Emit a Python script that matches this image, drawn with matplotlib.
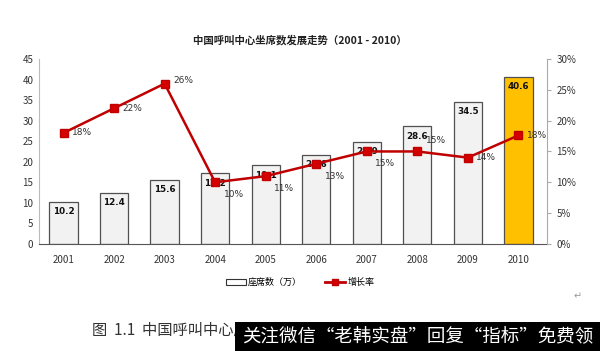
import matplotlib.pyplot as plt
import matplotlib.patches as mpatches
import numpy as np

plt.rcParams['font.family'] = ['Noto Sans CJK SC', 'DejaVu Sans']

years = ["2001", "2002", "2003", "2004", "2005", "2006", "2007", "2008", "2009", "2010"]
seats = [10.2, 12.4, 15.6, 17.2, 19.1, 21.6, 24.9, 28.6, 34.5, 40.6]
growth = [18, 22, 26, 10, 11, 13, 15, 15, 14, 17.6]
growth_labels = ["18%", "22%", "26%", "10%", "11%", "13%", "15%", "15%", "14%", "18%"]

# label offsets in points (dx, dy)
offsets = [(6, 0), (6, 0), (6, 2), (6, -9), (6, -9), (6, -9), (6, -9), (6, 8), (6, 0), (6, 0)]

fig = plt.figure(figsize=(6, 3.51), dpi=100)
ax = fig.add_axes([0.065, 0.305, 0.847, 0.527])
x = np.arange(len(years))
colors = ["#f2f2f2"] * 9 + ["#ffc000"]
ax.bar(x, seats, width=0.56, color=colors, edgecolor="#505050", linewidth=0.9, zorder=2)
for i, v in enumerate(seats):
    ax.text(i, v - 1.3, f"{v}", ha="center", va="top", fontsize=6.3, fontweight="bold",
            color="#111111", family="DejaVu Sans", zorder=5)

ax.set_xlim(-0.485, 9.57)
ax.set_ylim(0, 45)
ax.set_yticks(range(0, 46, 5))
ax.set_xticks(x)
ax.set_xticklabels(years)
ax.tick_params(axis="both", labelsize=7, colors="#333333", length=0, pad=8)
ax.tick_params(axis="y", pad=4)
for s in ["top", "right"]:
    ax.spines[s].set_visible(False)
ax.spines["left"].set_color("#bbbbbb")
ax.spines["bottom"].set_color("#555555")

ax2 = ax.twinx()
ax2.plot(x, growth, color="#c00000", linewidth=1.8, marker="s", markersize=5.5,
         markerfacecolor="#d40000", markeredgecolor="#c00000", zorder=4)
for i, (g, lab) in enumerate(zip(growth, growth_labels)):
    ax2.annotate(lab, (i, g), xytext=offsets[i], textcoords="offset points",
                 ha="left", va="center", fontsize=6.5, color="#333333", family="DejaVu Sans")
ax2.set_ylim(0, 30)
ax2.set_yticks(range(0, 31, 5))
ax2.set_yticklabels([f"{t}%" for t in range(0, 31, 5)])
ax2.tick_params(axis="y", labelsize=7, colors="#333333", length=3, direction="out")
ax2.tick_params(axis="y", color="#aaaaaa")
for s in ["top", "left", "bottom"]:
    ax2.spines[s].set_visible(False)
ax2.spines["right"].set_color("#aaaaaa")

fig.text(0.5, 0.885, "中国呼叫中心坐席数发展走势（2001 - 2010）", ha="center", va="center",
         fontsize=7.5, fontweight="bold", color="#222222")

handles = [mpatches.Patch(facecolor="white", edgecolor="#333333", linewidth=0.8),
           plt.Line2D([], [], color="#c00000", linewidth=2, marker="s", markersize=5,
                      markerfacecolor="#d40000")]
fig.legend(handles, ["座席数（万）", "增长率"], loc="center", bbox_to_anchor=(0.5, 0.195),
           ncol=2, frameon=False, fontsize=6.5, handlelength=2.2, columnspacing=2.5,
           handletextpad=0.3)

fig.text(0.963, 0.155, "↵", ha="center", va="center", fontsize=7, color="#999999")
fig.text(0.153, 0.06, "图  1.1  中国呼叫中心座", ha="left", va="center", fontsize=11,
         color="#333333")
fig.patches.append(mpatches.Rectangle((0.392, 0.0), 0.608, 0.083, transform=fig.transFigure,
                                      facecolor="black", edgecolor="none", zorder=10))
fig.text(0.403, 0.04, "关注微信“老韩实盘”回复“指标”免费领", ha="left", va="center",
         fontsize=13.3, color="white", zorder=11)

fig.savefig("out.png", dpi=100)
